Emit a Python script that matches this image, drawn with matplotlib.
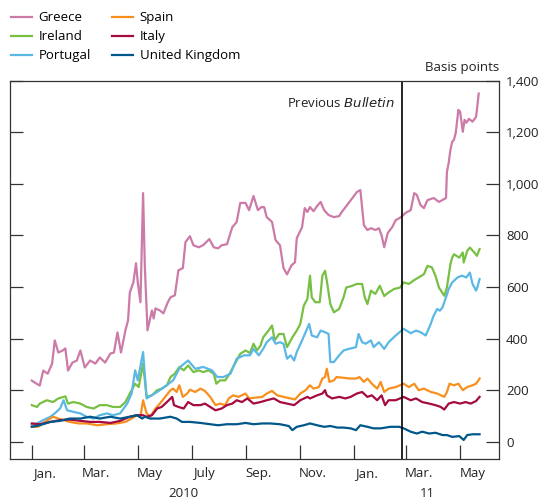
import pandas as pd
import matplotlib.pyplot as plt
from matplotlib.transforms import blended_transform_factory

plt.rcParams['font.family'] = ['Open Sans', 'DejaVu Sans']
plt.rcParams['font.size'] = 9.5

# days since 1 Jan 2010, spread in basis points
greece_days = [0, 5, 9, 13, 18, 23, 26, 30, 35, 38, 41, 46, 51, 55, 60, 66, 72, 77, 83, 89,
               93, 97, 101, 106, 109, 111, 115, 118, 120, 123, 126, 128, 131, 136, 138, 140, 145, 149, 154, 157,
               162, 166, 171, 174, 179, 183, 189, 194, 201, 206, 211, 215, 221, 227, 232, 236, 242, 246, 251, 256,
               260, 263, 266, 272, 276, 281, 285, 289, 294, 298, 300, 306, 309, 312, 315, 319, 323, 327, 331, 336,
               342, 348, 351, 357, 363, 368, 372, 376, 380, 384, 389, 393, 396, 399, 403, 408, 412, 418, 423, 429,
               433, 436, 440, 444, 448, 455, 461, 469, 470, 472, 474, 476, 478, 480, 483, 485, 488, 490, 492, 495,
               499, 503, 504, 506]
greece = [237, 226, 218, 276, 264, 303, 393, 346, 354, 362, 276, 307, 315, 354, 288, 315, 303, 327, 307, 342,
          346, 424, 346, 432, 471, 579, 618, 692, 618, 541, 964, 677, 432, 509, 478, 517, 509, 498, 541, 560,
          568, 665, 673, 774, 797, 762, 754, 762, 786, 754, 750, 762, 766, 832, 852, 926, 926, 898, 953, 898,
          910, 910, 871, 852, 782, 762, 673, 649, 684, 696, 789, 832, 906, 891, 910, 894, 914, 930, 898, 879,
          871, 875, 891, 918, 945, 968, 976, 840, 821, 828, 821, 828, 801, 754, 809, 832, 859, 871, 887, 898,
          964, 957, 918, 906, 937, 945, 930, 945, 1046, 1081, 1132, 1163, 1171, 1198, 1287, 1279, 1202, 1248, 1237, 1252,
          1241, 1260, 1287, 1350]

ireland_days = [0, 6, 9, 17, 24, 30, 38, 41, 47, 55, 62, 70, 77, 85, 92, 100, 106, 111, 117, 121,
                126, 130, 136, 142, 147, 153, 157, 162, 167, 172, 177, 183, 189, 194, 200, 206, 209, 213, 219, 224,
                228, 236, 242, 247, 251, 255, 259, 262, 268, 272, 275, 280, 285, 289, 295, 300, 304, 308, 312, 315,
                317, 321, 326, 329, 332, 334, 338, 342, 348, 353, 356, 363, 368, 374, 377, 380, 384, 389, 394, 399,
                404, 410, 417, 421, 427, 433, 438, 444, 448, 453, 457, 461, 467, 470, 474, 476, 478, 484, 488, 489,
                493, 496, 501, 504, 507]
ireland = [142, 135, 148, 161, 154, 168, 176, 148, 154, 148, 135, 129, 142, 142, 135, 135, 154, 187, 225, 212,
           303, 174, 180, 200, 206, 219, 251, 264, 290, 277, 296, 270, 277, 270, 277, 264, 225, 238, 238, 264,
           290, 341, 354, 344, 380, 354, 373, 405, 431, 451, 393, 418, 418, 367, 405, 431, 457, 528, 554, 644,
           560, 541, 541, 644, 663, 625, 534, 502, 515, 560, 598, 605, 612, 612, 560, 534, 586, 573, 605, 565,
           579, 592, 598, 618, 612, 627, 637, 650, 682, 676, 644, 598, 566, 598, 689, 714, 727, 714, 734, 695,
           740, 753, 734, 721, 747]

portugal_days = [0, 6, 13, 21, 26, 32, 36, 40, 47, 55, 62, 70, 77, 85, 92, 100, 108, 113, 117, 120,
                 126, 130, 142, 150, 160, 168, 177, 185, 194, 204, 210, 217, 225, 232, 240, 247, 251, 257, 262, 266,
                 272, 276, 281, 285, 289, 293, 297, 300, 306, 310, 314, 317, 323, 327, 332, 336, 338, 342, 348, 353,
                 359, 367, 370, 374, 378, 384, 387, 393, 399, 404, 412, 421, 429, 435, 440, 446, 451, 455, 459, 462,
                 465, 469, 472, 476, 482, 487, 492, 496, 499, 503, 505, 507]
portugal = [64, 71, 84, 97, 110, 129, 161, 122, 116, 110, 97, 90, 103, 110, 103, 110, 148, 187, 277, 238,
            348, 168, 193, 212, 238, 290, 315, 283, 290, 277, 251, 251, 264, 322, 335, 335, 360, 335, 360, 386,
            405, 380, 386, 380, 322, 335, 315, 348, 393, 425, 457, 412, 405, 431, 425, 418, 309, 309, 335, 354,
            360, 367, 418, 386, 380, 393, 367, 386, 360, 386, 412, 438, 421, 431, 425, 412, 451, 489, 515, 508,
            521, 560, 592, 618, 637, 644, 637, 656, 612, 586, 605, 631]

spain_days = [0, 7, 15, 24, 30, 36, 43, 53, 62, 74, 85, 96, 106, 113, 119, 123, 126, 130, 134, 140,
              145, 151, 157, 160, 164, 167, 171, 176, 179, 185, 191, 196, 202, 208, 213, 219, 223, 228, 234, 242,
              246, 253, 261, 266, 272, 278, 285, 293, 298, 304, 310, 315, 319, 325, 329, 332, 334, 337, 342, 345,
              353, 361, 367, 371, 376, 380, 385, 391, 395, 399, 404, 412, 421, 427, 433, 438, 444, 452, 459, 467,
              470, 473, 478, 483, 488, 493, 499, 503, 507]
spain = [58, 58, 77, 97, 90, 84, 77, 71, 71, 64, 68, 71, 77, 90, 103, 97, 161, 110, 97, 129,
         148, 174, 200, 206, 193, 219, 174, 187, 202, 193, 206, 197, 174, 142, 148, 142, 168, 180, 174, 187,
         168, 171, 174, 187, 197, 180, 174, 168, 164, 187, 200, 219, 206, 212, 245, 251, 283, 232, 238, 251,
         248, 245, 245, 251, 232, 245, 225, 206, 232, 193, 206, 212, 225, 212, 225, 200, 206, 193, 187, 174,
         193, 225, 219, 225, 200, 212, 219, 225, 245]

italy_days = [0, 9, 21, 32, 43, 55, 66, 77, 89, 100, 111, 119, 126, 130, 136, 142, 147, 153, 159, 161,
              166, 172, 177, 183, 191, 196, 202, 208, 215, 221, 227, 232, 238, 244, 251, 259, 266, 274, 281, 289,
              297, 304, 312, 315, 323, 329, 332, 334, 340, 348, 355, 361, 368, 374, 380, 385, 391, 396, 400, 404,
              412, 421, 429, 435, 442, 450, 457, 463, 467, 472, 478, 485, 491, 497, 503, 507]
italy = [71, 68, 77, 84, 86, 81, 77, 77, 73, 81, 97, 103, 103, 97, 103, 129, 135, 154, 174, 142,
         135, 129, 154, 142, 142, 148, 135, 122, 129, 142, 148, 161, 154, 168, 148, 154, 161, 168, 154, 148,
         142, 161, 174, 168, 180, 187, 200, 180, 168, 174, 168, 174, 187, 193, 174, 180, 161, 180, 142, 161,
         161, 174, 161, 168, 154, 148, 142, 135, 125, 148, 154, 148, 154, 148, 158, 174]

uk_days = [0, 9, 21, 32, 43, 55, 66, 77, 89, 100, 111, 119, 125, 128, 134, 145, 157, 164, 170, 179,
           191, 202, 211, 221, 232, 242, 251, 261, 270, 281, 291, 295, 300, 308, 315, 323, 331, 338, 346, 353,
           361, 367, 372, 380, 387, 395, 406, 416, 421, 429, 436, 442, 450, 457, 465, 470, 476, 484, 489, 493,
           499, 507]
uk = [58, 64, 77, 81, 90, 90, 97, 90, 97, 90, 97, 103, 90, 97, 90, 90, 97, 90, 77, 77,
      73, 68, 64, 68, 68, 73, 68, 71, 71, 68, 61, 45, 58, 64, 71, 64, 58, 61, 55, 55,
      52, 45, 64, 58, 52, 52, 58, 58, 52, 39, 32, 39, 32, 35, 26, 26, 19, 22, 7, 26,
      29, 29]

start = pd.Timestamp('2010-01-01')
series = [
    ('Greece', greece_days, greece, '#cc7aa8'),
    ('Ireland', ireland_days, ireland, '#77c043'),
    ('Portugal', portugal_days, portugal, '#5bb8e6'),
    ('Spain', spain_days, spain, '#f7901e'),
    ('Italy', italy_days, italy, '#a50b40'),
    ('United Kingdom', uk_days, uk, '#00578a'),
]

fig = plt.figure(figsize=(5.43, 5.03), dpi=100)
ax = fig.add_axes([0.0179, 0.0879, 0.9011, 0.7517])

lines = []
for name, days, vals, col in series:
    dates = start + pd.to_timedelta(days, unit='D')
    ln, = ax.plot(dates, vals, color=col, lw=1.6, label=name)
    lines.append(ln)

ax.set_xlim(pd.Timestamp('2009-12-07'), pd.Timestamp('2011-06-14'))
ax.set_ylim(-66, 1400)

# y軸: ラベルは右側、目盛りは内向き
ax.set_yticks(range(0, 1401, 200))
ax.yaxis.set_major_formatter(plt.FuncFormatter(lambda v, p: f'{int(v):,}'))
ax.tick_params(axis='y', which='both', direction='in', length=9.5, width=0.9,
               left=True, right=True, labelleft=False, labelright=True, pad=5,
               colors='#333333', labelcolor='#222222')

# x軸: 目盛りは月初、ラベルは月の中ほど
month_starts = pd.date_range('2010-01-01', '2011-05-01', freq='2MS')
month_mids = month_starts + pd.Timedelta(days=14)
month_labels = ['Jan.', 'Mar.', 'May', 'July', 'Sep.', 'Nov.', 'Jan.', 'Mar.', 'May']
ax.set_xticks(month_starts)
ax.set_xticklabels([])
ax.set_xticks(month_mids, minor=True)
ax.set_xticklabels(month_labels, minor=True)
ax.tick_params(axis='x', which='major', direction='in', length=10, width=0.9, color='#333333')
ax.tick_params(axis='x', which='minor', length=0, pad=6, labelcolor='#222222')

for s in ax.spines.values():
    s.set_color('#333333')
    s.set_linewidth(0.9)

trans = blended_transform_factory(ax.transData, ax.transAxes)
ax.text(pd.Timestamp('2010-06-22'), -0.092, '2010', transform=trans, ha='center', va='center', color='#222222')
ax.text(pd.Timestamp('2011-03-25'), -0.092, '11', transform=trans, ha='center', va='center', color='#222222')

# 前号の時点
prev = pd.Timestamp('2011-02-24')
ax.axvline(prev, color='black', lw=1.2)
ax.text(prev - pd.Timedelta(days=8), 1312, 'Previous $\\it{Bulletin}$', ha='right', va='center', color='#222222')

fig.text(0.919, 0.865, 'Basis points', ha='right', va='center', color='#222222')

fig.legend(handles=lines, loc='upper left', bbox_to_anchor=(0.005, 0.993), ncol=2, frameon=False,
           handlelength=1.6, handletextpad=0.5, columnspacing=1.6, labelspacing=0.45, borderaxespad=0.2)

fig.savefig('out.png', dpi=100)
